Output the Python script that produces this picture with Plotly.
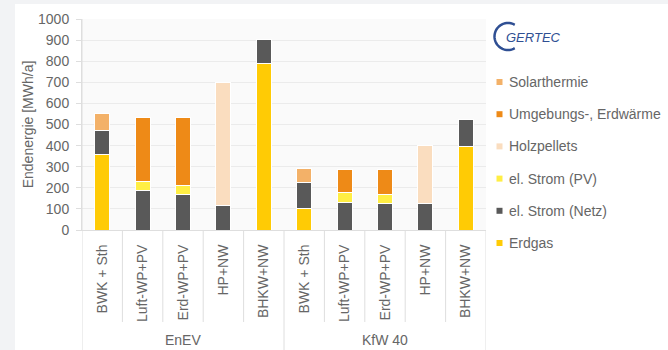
import math
import plotly.graph_objects as go

# Scenario labels (inner axis level) and their grouping (outer level)
scenarios = ["BWK + Sth", "Luft-WP+PV", "Erd-WP+PV", "HP+NW", "BHKW+NW",
             "BWK + Sth", "Luft-WP+PV", "Erd-WP+PV", "HP+NW", "BHKW+NW"]
group_names = ["EnEV", "KfW 40"]
group_sizes = [5, 5]

# Final energy per carrier [MWh/a], stacked bottom to top
erdgas = [360, 0, 0, 0, 790, 100, 0, 0, 0, 395]
strom_netz = [110, 185, 168, 115, 115, 125, 132, 124, 124, 129]
strom_pv = [0, 45, 45, 0, 0, 0, 46, 43, 0, 0]
holzpellets = [0, 0, 0, 585, 0, 0, 0, 0, 278, 0]
umgebung = [0, 303, 320, 0, 0, 0, 108, 119, 0, 0]
solarthermie = [80, 0, 0, 0, 0, 65, 0, 0, 0, 0]

y_ticks = list(range(0, 1001, 100))

series = [
    ("Erdgas", erdgas, "#FFCB05"),
    ("el. Strom (Netz)", strom_netz, "#595959"),
    ("el. Strom (PV)", strom_pv, "#FFEE44"),
    ("Holzpellets", holzpellets, "#FADDBF"),
    ("Umgebungs-, Erdwärme", umgebung, "#EE8A17"),
    ("Solarthermie", solarthermie, "#F3B168"),
]

W, H = 668, 350
L, R, T, B = 82, 486, 19, 230          # plot area in pixels


def px_x(p):
    return (p - L) / (R - L)


def px_y(p):
    return (B - p) / (B - T)


FONT = "Liberation Sans, Arial, sans-serif"
TXT = "#666666"
LINE = "#dedede"

idx = list(range(len(scenarios)))

fig = go.Figure()
for name, vals, color in series:
    fig.add_trace(go.Bar(
        x=idx,
        y=[v if v else None for v in vals],
        name=name,
        marker=dict(color=color, line=dict(color="white", width=1)),
        showlegend=False,
    ))

shapes = []
annotations = []

# page background bands around the white card
shapes.append(dict(type="rect", xref="paper", yref="paper", layer="below",
                   x0=px_x(0), x1=px_x(15), y0=px_y(H), y1=px_y(0),
                   fillcolor="#F2F3F5", line=dict(width=0)))
shapes.append(dict(type="rect", xref="paper", yref="paper", layer="below",
                   x0=px_x(0), x1=px_x(W), y0=px_y(4), y1=px_y(0),
                   fillcolor="#F2F3F5", line=dict(width=0)))

# category table below the x axis
boundaries = [i - 0.5 for i in range(len(scenarios) + 1)]
group_edges = [-0.5]
for s in group_sizes:
    group_edges.append(group_edges[-1] + s)
for b in boundaries:
    full = b in group_edges
    y_top = px_y(T) if b == boundaries[0] else 0
    y_bot = px_y(H) if full else px_y(322)
    shapes.append(dict(type="line", xref="x", yref="paper", layer="above",
                       x0=b, x1=b, y0=y_bot, y1=y_top,
                       line=dict(color=LINE, width=1)))

for g, name in enumerate(group_names):
    center = (group_edges[g] + group_edges[g + 1]) / 2
    annotations.append(dict(text=name, x=center, xref="x", y=px_y(340), yref="paper",
                            showarrow=False, xanchor="center", yanchor="middle",
                            font=dict(family=FONT, size=14, color=TXT)))

# legend: top to bottom in reverse stacking order
for k, (name, vals, color) in enumerate(reversed(series)):
    yc = 82 + 32.2 * k
    shapes.append(dict(type="rect", xref="paper", yref="paper",
                       x0=px_x(496.5), x1=px_x(502.5), y0=px_y(yc + 3), y1=px_y(yc - 3),
                       fillcolor=color, line=dict(width=0)))
    annotations.append(dict(text=name, x=px_x(507), xref="paper", y=px_y(yc), yref="paper",
                            showarrow=False, xanchor="left", yanchor="middle",
                            font=dict(family=FONT, size=14, color=TXT)))

# GERTEC logo: open arc plus italic lettering
cx, cy, r = 508, 36.5, 13.5
pts = []
for a in range(60, 301, 6):
    t = math.radians(a)
    pts.append((px_x(cx + r * math.cos(t)), px_y(cy - r * math.sin(t))))
path = "M " + " L ".join(f"{x:.5f},{y:.5f}" for x, y in pts)
shapes.append(dict(type="path", xref="paper", yref="paper", path=path,
                   line=dict(color="#2F4F93", width=2.5)))
annotations.append(dict(text="<i>GERTEC</i>", x=px_x(504), xref="paper", y=px_y(37.5),
                        yref="paper", showarrow=False, xanchor="left", yanchor="middle",
                        font=dict(family=FONT, size=13, color="#2F4F93")))

fig.update_layout(
    width=W, height=H,
    margin=dict(l=L, r=W - R, t=T, b=H - B),
    barmode="stack",
    bargap=0.63,
    paper_bgcolor="white",
    plot_bgcolor="#FAFAFA",
    font=dict(family=FONT, size=14, color=TXT),
    shapes=shapes,
    annotations=annotations,
    xaxis=dict(
        range=[-0.5, len(scenarios) - 0.5],
        tickmode="array", tickvals=idx, ticktext=scenarios,
        tickangle=-90, ticks="", showgrid=False, zeroline=False,
        showline=True, linecolor=LINE, linewidth=1,
        ticklabelstandoff=8,
        tickfont=dict(family=FONT, size=14, color=TXT),
        automargin=False,
    ),
    yaxis=dict(
        range=[0, 1000], tickmode="array", tickvals=y_ticks,
        ticks="outside", ticklen=5, tickcolor=LINE,
        showline=True, linecolor=LINE, linewidth=1,
        gridcolor="#EBEBEB", zeroline=False,
        ticklabelstandoff=4,
        tickfont=dict(family=FONT, size=14, color=TXT),
        title=dict(text="Endenergie [MWh/a]", standoff=1,
                   font=dict(family=FONT, size=14, color=TXT)),
        automargin=False,
    ),
)

fig.write_html("out.html")
